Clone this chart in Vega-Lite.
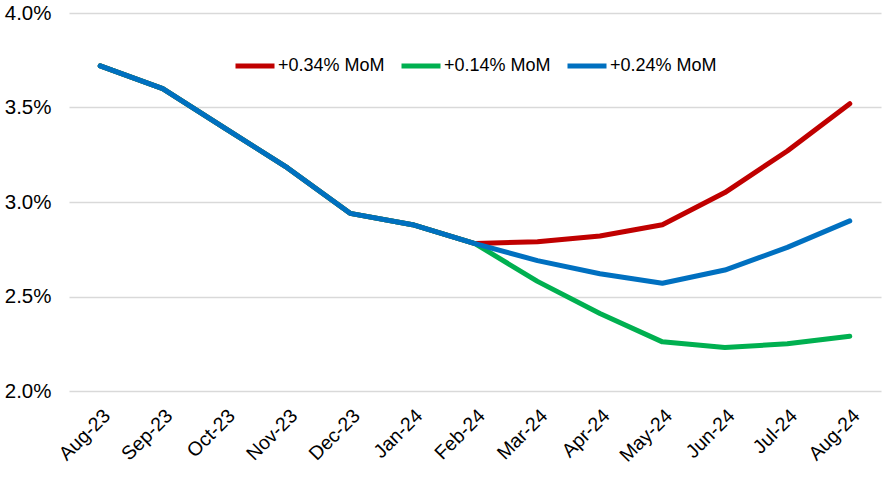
{
  "$schema": "https://vega.github.io/schema/vega-lite/v6.json",
  "width": 812,
  "height": 378,
  "autosize": {"type": "none"},
  "padding": {"left": 69, "top": 13, "right": 2, "bottom": 98},
  "background": "white",
  "config": {
    "view": {"stroke": null},
    "font": "Liberation Sans"
  },
  "data": {
    "values": [
      {"month": "Aug-23", "series": "+0.34% MoM", "rate": 0.0372},
      {"month": "Sep-23", "series": "+0.34% MoM", "rate": 0.0360},
      {"month": "Oct-23", "series": "+0.34% MoM", "rate": 0.0339},
      {"month": "Nov-23", "series": "+0.34% MoM", "rate": 0.0318},
      {"month": "Dec-23", "series": "+0.34% MoM", "rate": 0.0294},
      {"month": "Jan-24", "series": "+0.34% MoM", "rate": 0.0288},
      {"month": "Feb-24", "series": "+0.34% MoM", "rate": 0.0278},
      {"month": "Mar-24", "series": "+0.34% MoM", "rate": 0.0279},
      {"month": "Apr-24", "series": "+0.34% MoM", "rate": 0.0282},
      {"month": "May-24", "series": "+0.34% MoM", "rate": 0.0288},
      {"month": "Jun-24", "series": "+0.34% MoM", "rate": 0.0305},
      {"month": "Jul-24", "series": "+0.34% MoM", "rate": 0.0327},
      {"month": "Aug-24", "series": "+0.34% MoM", "rate": 0.0352},
      {"month": "Aug-23", "series": "+0.14% MoM", "rate": 0.0372},
      {"month": "Sep-23", "series": "+0.14% MoM", "rate": 0.0360},
      {"month": "Oct-23", "series": "+0.14% MoM", "rate": 0.0339},
      {"month": "Nov-23", "series": "+0.14% MoM", "rate": 0.0318},
      {"month": "Dec-23", "series": "+0.14% MoM", "rate": 0.0294},
      {"month": "Jan-24", "series": "+0.14% MoM", "rate": 0.0288},
      {"month": "Feb-24", "series": "+0.14% MoM", "rate": 0.0278},
      {"month": "Mar-24", "series": "+0.14% MoM", "rate": 0.0258},
      {"month": "Apr-24", "series": "+0.14% MoM", "rate": 0.0241},
      {"month": "May-24", "series": "+0.14% MoM", "rate": 0.0226},
      {"month": "Jun-24", "series": "+0.14% MoM", "rate": 0.0223},
      {"month": "Jul-24", "series": "+0.14% MoM", "rate": 0.0225},
      {"month": "Aug-24", "series": "+0.14% MoM", "rate": 0.0229},
      {"month": "Aug-23", "series": "+0.24% MoM", "rate": 0.0372},
      {"month": "Sep-23", "series": "+0.24% MoM", "rate": 0.0360},
      {"month": "Oct-23", "series": "+0.24% MoM", "rate": 0.0339},
      {"month": "Nov-23", "series": "+0.24% MoM", "rate": 0.0318},
      {"month": "Dec-23", "series": "+0.24% MoM", "rate": 0.0294},
      {"month": "Jan-24", "series": "+0.24% MoM", "rate": 0.0288},
      {"month": "Feb-24", "series": "+0.24% MoM", "rate": 0.0278},
      {"month": "Mar-24", "series": "+0.24% MoM", "rate": 0.0269},
      {"month": "Apr-24", "series": "+0.24% MoM", "rate": 0.0262},
      {"month": "May-24", "series": "+0.24% MoM", "rate": 0.0257},
      {"month": "Jun-24", "series": "+0.24% MoM", "rate": 0.0264},
      {"month": "Jul-24", "series": "+0.24% MoM", "rate": 0.0276},
      {"month": "Aug-24", "series": "+0.24% MoM", "rate": 0.0290}
    ]
  },
  "mark": {"type": "line", "strokeWidth": 5, "strokeCap": "round", "strokeJoin": "round"},
  "encoding": {
    "x": {
      "field": "month",
      "type": "ordinal",
      "sort": ["Aug-23","Sep-23","Oct-23","Nov-23","Dec-23","Jan-24","Feb-24","Mar-24","Apr-24","May-24","Jun-24","Jul-24","Aug-24"],
      "scale": {"type": "point", "padding": 0.5},
      "axis": {
        "title": null,
        "labelAngle": -45,
        "labelFontSize": 19.5,
        "labelColor": "#000000",
        "labelPadding": 15,
        "ticks": false,
        "domain": false,
        "grid": false
      }
    },
    "y": {
      "field": "rate",
      "type": "quantitative",
      "scale": {"domain": [0.02, 0.04], "nice": false, "zero": false},
      "axis": {
        "title": null,
        "values": [0.02, 0.025, 0.03, 0.035, 0.04],
        "format": ".1%",
        "labelFontSize": 20.5,
        "labelColor": "#000000",
        "labelPadding": 18,
        "ticks": false,
        "domain": false,
        "grid": true,
        "gridColor": "#D9D9D9",
        "gridWidth": 1.5
      }
    },
    "color": {
      "field": "series",
      "type": "nominal",
      "sort": ["+0.34% MoM", "+0.14% MoM", "+0.24% MoM"],
      "scale": {
        "domain": ["+0.34% MoM", "+0.14% MoM", "+0.24% MoM"],
        "range": ["#C00000", "#00B050", "#0070C0"]
      },
      "legend": {
        "title": null,
        "orient": "none",
        "legendX": 164,
        "legendY": 31,
        "direction": "horizontal",
        "padding": 0,
        "symbolType": "stroke",
        "symbolSize": 1521,
        "symbolStrokeWidth": 5,
        "labelFontSize": 18,
        "labelColor": "#000000",
        "labelOffset": 1,
        "columnPadding": 6
      }
    }
  }
}
